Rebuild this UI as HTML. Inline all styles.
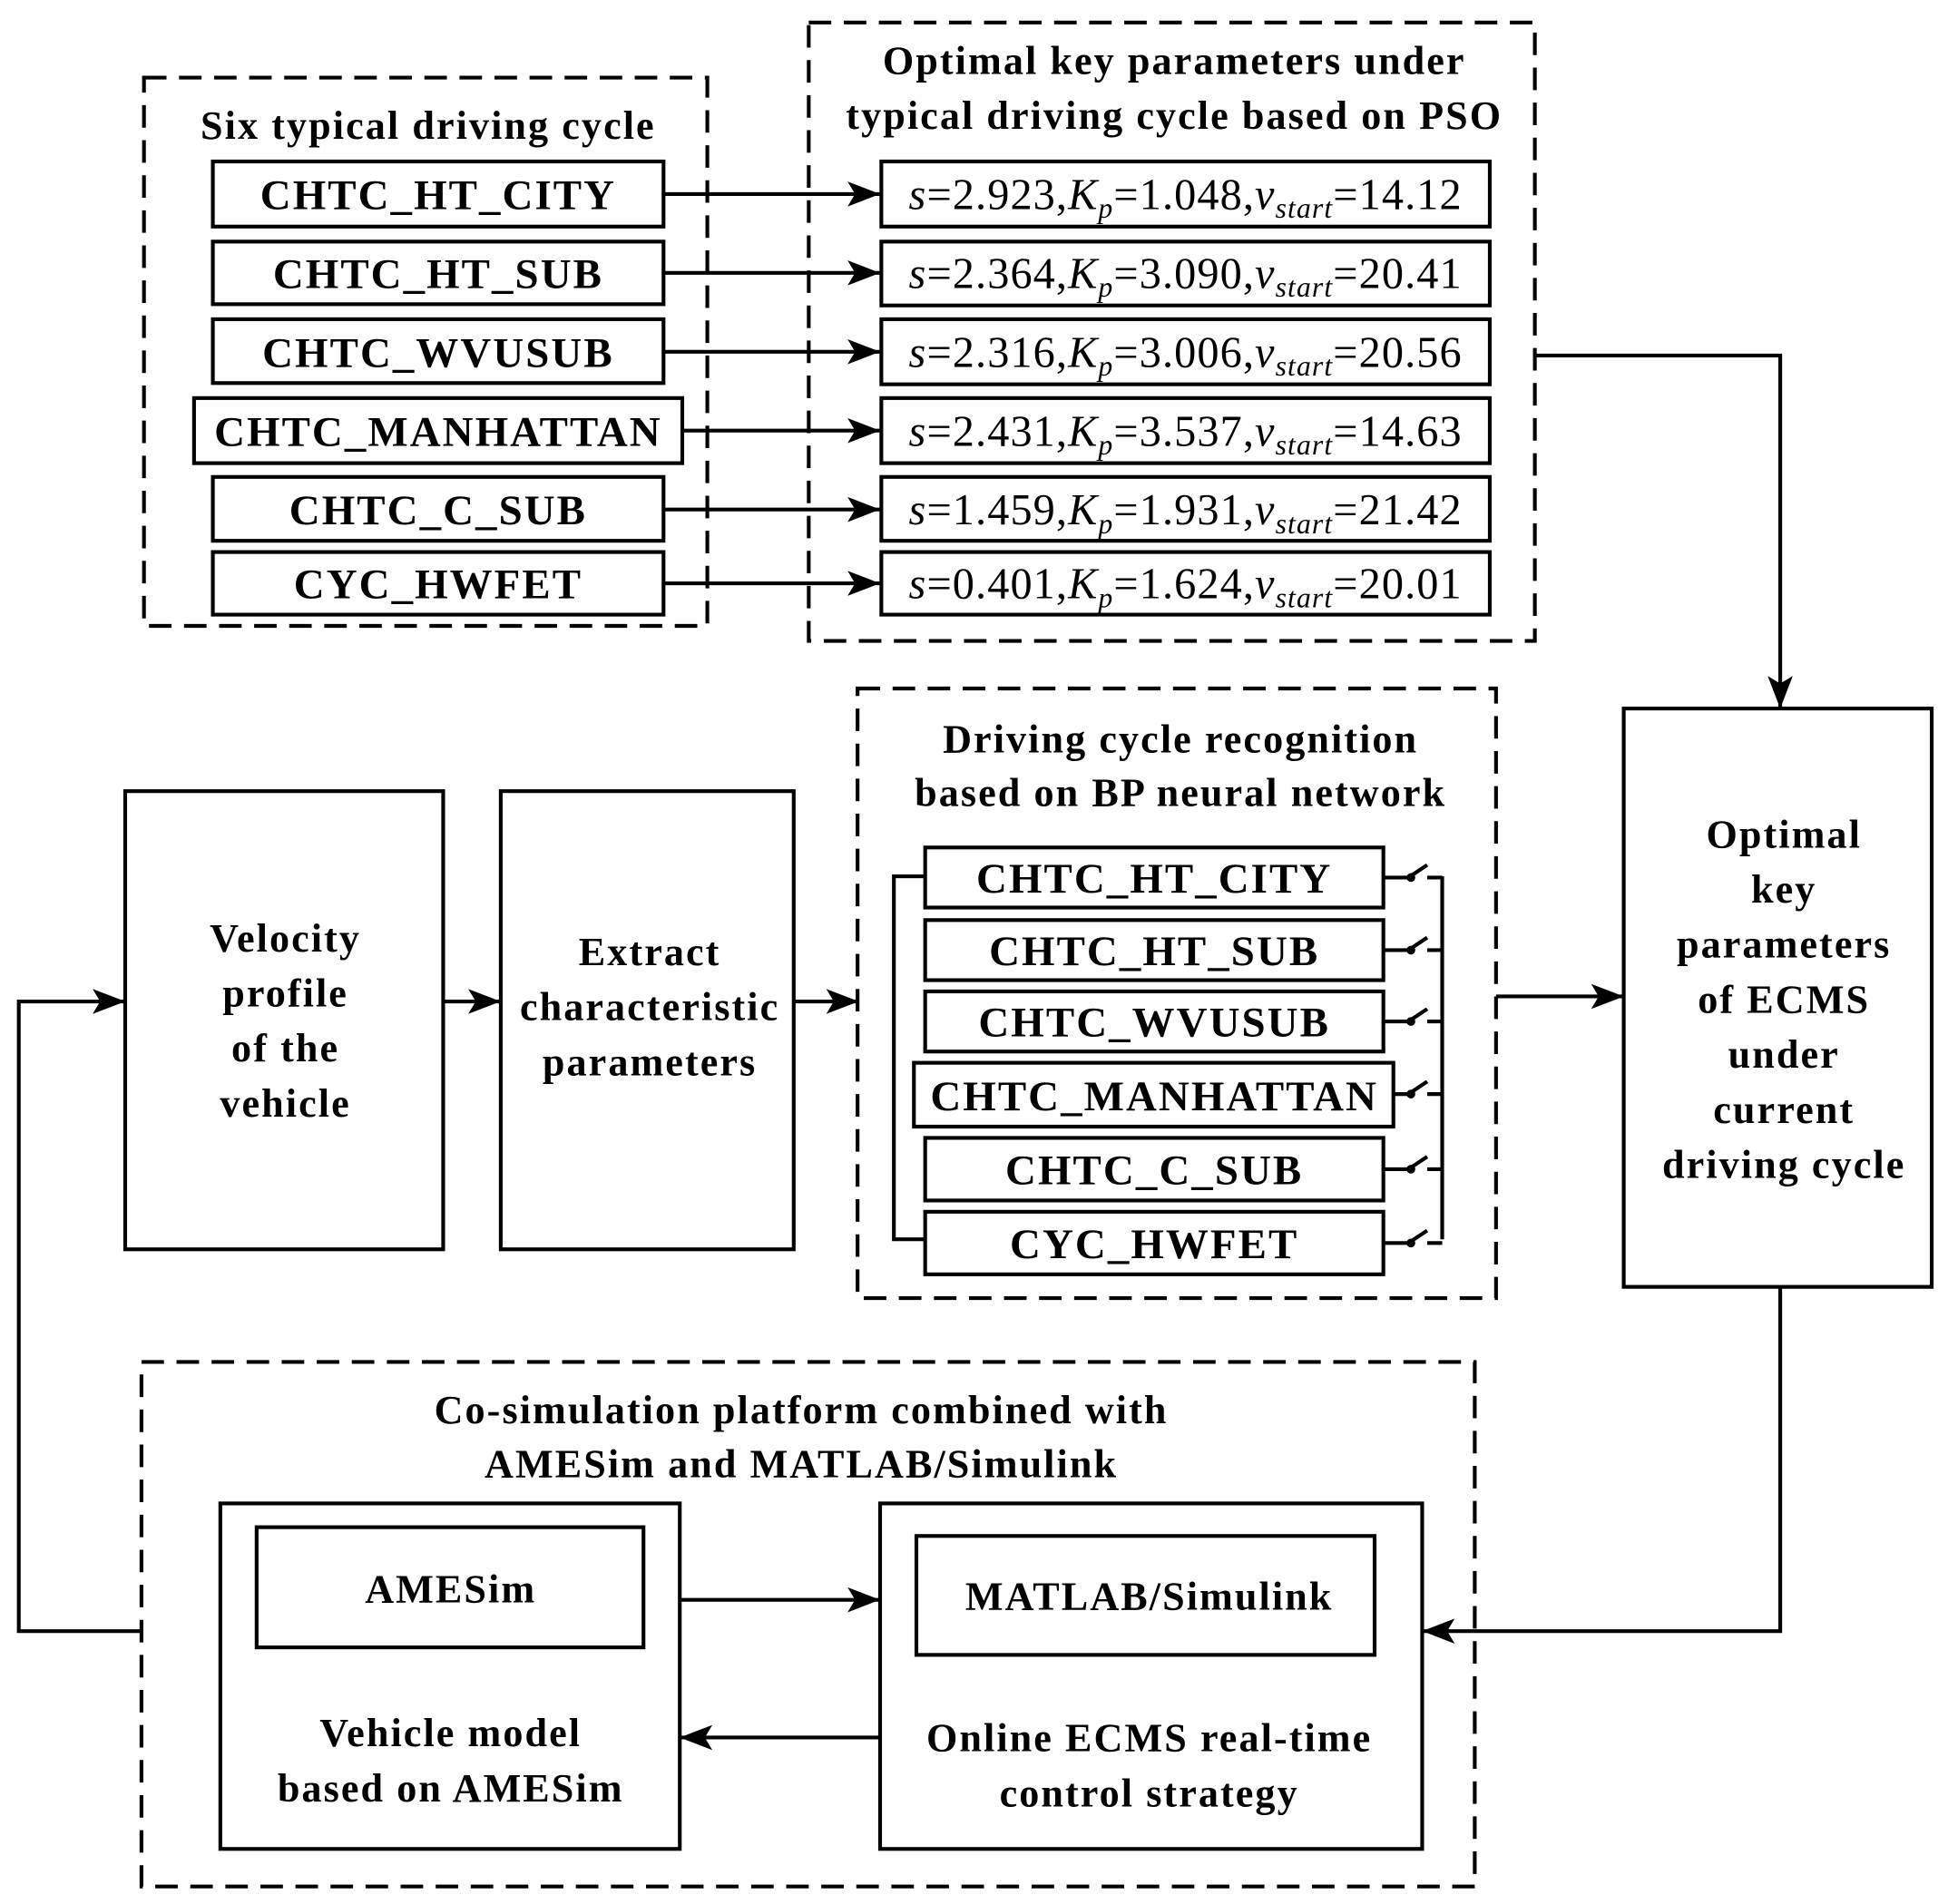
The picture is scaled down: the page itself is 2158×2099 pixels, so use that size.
<!DOCTYPE html>
<html><head><meta charset="utf-8"><style>
html,body{margin:0;padding:0;background:#fff}
svg{display:block}
text{font-family:"Liberation Serif",serif;fill:#000}
.b{font-weight:bold;letter-spacing:1.5px}
</style></head><body>
<svg width="2158" height="2099" viewBox="0 0 1564 1521" preserveAspectRatio="none" xmlns="http://www.w3.org/2000/svg">
<defs>
<marker id="ar" viewBox="0 0 26 20" refX="26" refY="10" markerWidth="26" markerHeight="20" orient="auto" markerUnits="userSpaceOnUse"><path d="M0,0 L26,10 L0,20 L6,10 Z" fill="#000"/></marker></defs>
<g fill="none" stroke="#000" stroke-width="3">
<g stroke-dasharray="18,10">
<rect x="115" y="62" width="450" height="438"/>
<rect x="646" y="18" width="580" height="494"/>
<rect x="685" y="550" width="510" height="487"/>
<rect x="113" y="1088" width="1065" height="419"/>
</g>
<rect x="170" y="129" width="360" height="52"/>
<rect x="170" y="193" width="360" height="50"/>
<rect x="170" y="255" width="360" height="51"/>
<rect x="155" y="318" width="390" height="52"/>
<rect x="170" y="381" width="360" height="51"/>
<rect x="170" y="441" width="360" height="50"/>
<rect x="704" y="129" width="486" height="52"/>
<rect x="704" y="193" width="486" height="51"/>
<rect x="704" y="255" width="486" height="52"/>
<rect x="704" y="318" width="486" height="52"/>
<rect x="704" y="381" width="486" height="51"/>
<rect x="704" y="441" width="486" height="50"/>
<g marker-end="url(#ar)">
<path d="M530,155H703"/><path d="M530,218H703"/><path d="M530,281H703"/><path d="M545,344H703"/><path d="M530,407H703"/><path d="M530,466H703"/>
<path d="M1226,284H1422V566"/>
<path d="M354,800H400"/><path d="M634,800H686"/><path d="M1195,796H1297"/>
<path d="M543,1278H703"/><path d="M703,1388H543"/>
<path d="M1422,1028V1303H1136"/>
<path d="M113,1303H15V800H100"/>
</g>
<rect x="1297" y="566" width="246" height="462"/>
<rect x="100" y="632" width="254" height="366"/>
<rect x="400" y="632" width="234" height="366"/>
<rect x="739" y="677" width="366" height="48"/>
<rect x="739" y="735" width="366" height="48"/>
<rect x="739" y="792" width="366" height="48"/>
<rect x="730" y="849" width="383" height="51"/>
<rect x="739" y="909" width="366" height="50"/>
<rect x="739" y="968" width="366" height="50"/>
<path d="M739,700H714V990H739"/>
<path d="M1152,700V990"/>
<path d="M1105,701H1125L1140,691M1140,701H1152"/>
<path d="M1105,759H1125L1140,749M1140,759H1152"/>
<path d="M1105,816H1125L1140,806M1140,816H1152"/>
<path d="M1113,874H1125L1140,864M1140,874H1152"/>
<path d="M1105,934H1125L1140,924M1140,934H1152"/>
<path d="M1105,993H1125L1140,983M1140,993H1152"/>
<rect x="176" y="1201" width="367" height="276"/>
<rect x="205" y="1220" width="309" height="96"/>
<rect x="703" y="1201" width="433" height="276"/>
<rect x="732" y="1227" width="366" height="95"/>
</g>
<g fill="#000"><circle cx="1127" cy="701" r="3.5"/><circle cx="1127" cy="759" r="3.5"/><circle cx="1127" cy="816" r="3.5"/><circle cx="1127" cy="874" r="3.5"/><circle cx="1127" cy="934" r="3.5"/><circle cx="1127" cy="993" r="3.5"/></g>
<g class="b" font-size="32" text-anchor="middle">
<text x="342" y="111">Six typical driving cycle</text>
<text x="938" y="59">Optimal key parameters under</text>
<text x="938" y="103">typical driving cycle based on PSO</text>
<text x="350" y="167" font-size="34">CHTC_HT_CITY</text>
<text x="350" y="230" font-size="34">CHTC_HT_SUB</text>
<text x="350" y="293" font-size="34">CHTC_WVUSUB</text>
<text x="350" y="356" font-size="34">CHTC_MANHATTAN</text>
<text x="350" y="419" font-size="34">CHTC_C_SUB</text>
<text x="350" y="478" font-size="34">CYC_HWFET</text>
<text x="943" y="601">Driving cycle recognition</text>
<text x="943" y="644">based on BP neural network</text>
<text x="922" y="713" font-size="34">CHTC_HT_CITY</text>
<text x="922" y="771" font-size="34">CHTC_HT_SUB</text>
<text x="922" y="828" font-size="34">CHTC_WVUSUB</text>
<text x="922" y="887" font-size="34">CHTC_MANHATTAN</text>
<text x="922" y="946" font-size="34">CHTC_C_SUB</text>
<text x="922" y="1005" font-size="34">CYC_HWFET</text>
<text x="228" y="760">Velocity</text>
<text x="228" y="804">profile</text>
<text x="228" y="848">of the</text>
<text x="228" y="892">vehicle</text>
<text x="519" y="771">Extract</text>
<text x="519" y="815">characteristic</text>
<text x="519" y="859">parameters</text>
<text x="1425" y="677">Optimal</text>
<text x="1425" y="721">key</text>
<text x="1425" y="765">parameters</text>
<text x="1425" y="809">of ECMS</text>
<text x="1425" y="853">under</text>
<text x="1425" y="897">current</text>
<text x="1425" y="941">driving cycle</text>
<text x="640" y="1137">Co-simulation platform combined with</text>
<text x="640" y="1180">AMESim and MATLAB/Simulink</text>
<text x="360" y="1280">AMESim</text>
<text x="360" y="1395">Vehicle model</text>
<text x="360" y="1439">based on AMESim</text>
<text x="918" y="1286">MATLAB/Simulink</text>
<text x="918" y="1399">Online ECMS real-time</text>
<text x="918" y="1443">control strategy</text>
</g>
<g font-size="35" text-anchor="middle" letter-spacing="0.8">
<text x="947" y="167"><tspan font-style="italic">s</tspan>=2.923,<tspan font-style="italic">K</tspan><tspan font-style="italic" font-size="23" dy="7">p</tspan><tspan dy="-7">=1.048,</tspan><tspan font-style="italic">v</tspan><tspan font-style="italic" font-size="23" dy="7">start</tspan><tspan dy="-7">=14.12</tspan></text>
<text x="947" y="230"><tspan font-style="italic">s</tspan>=2.364,<tspan font-style="italic">K</tspan><tspan font-style="italic" font-size="23" dy="7">p</tspan><tspan dy="-7">=3.090,</tspan><tspan font-style="italic">v</tspan><tspan font-style="italic" font-size="23" dy="7">start</tspan><tspan dy="-7">=20.41</tspan></text>
<text x="947" y="293"><tspan font-style="italic">s</tspan>=2.316,<tspan font-style="italic">K</tspan><tspan font-style="italic" font-size="23" dy="7">p</tspan><tspan dy="-7">=3.006,</tspan><tspan font-style="italic">v</tspan><tspan font-style="italic" font-size="23" dy="7">start</tspan><tspan dy="-7">=20.56</tspan></text>
<text x="947" y="356"><tspan font-style="italic">s</tspan>=2.431,<tspan font-style="italic">K</tspan><tspan font-style="italic" font-size="23" dy="7">p</tspan><tspan dy="-7">=3.537,</tspan><tspan font-style="italic">v</tspan><tspan font-style="italic" font-size="23" dy="7">start</tspan><tspan dy="-7">=14.63</tspan></text>
<text x="947" y="419"><tspan font-style="italic">s</tspan>=1.459,<tspan font-style="italic">K</tspan><tspan font-style="italic" font-size="23" dy="7">p</tspan><tspan dy="-7">=1.931,</tspan><tspan font-style="italic">v</tspan><tspan font-style="italic" font-size="23" dy="7">start</tspan><tspan dy="-7">=21.42</tspan></text>
<text x="947" y="478"><tspan font-style="italic">s</tspan>=0.401,<tspan font-style="italic">K</tspan><tspan font-style="italic" font-size="23" dy="7">p</tspan><tspan dy="-7">=1.624,</tspan><tspan font-style="italic">v</tspan><tspan font-style="italic" font-size="23" dy="7">start</tspan><tspan dy="-7">=20.01</tspan></text>
</g>
</svg>
</body></html>
